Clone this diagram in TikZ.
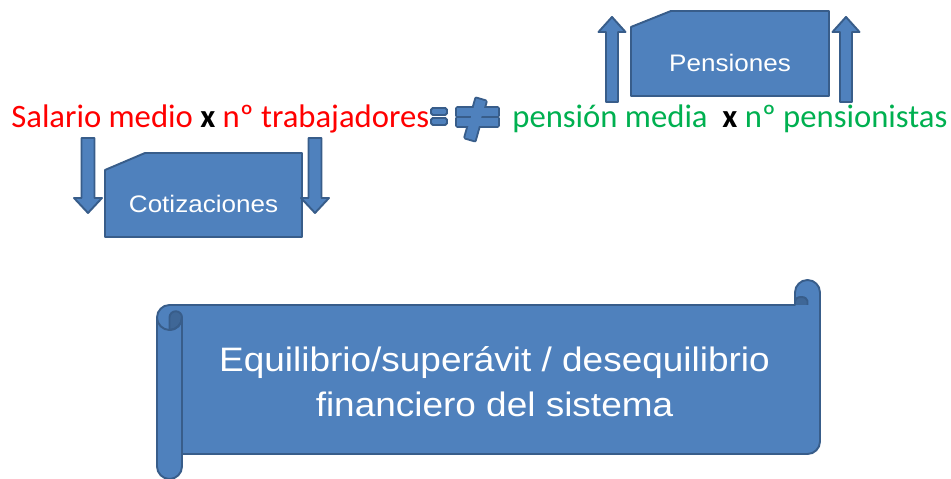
\documentclass[tikz,border=0pt]{standalone}
\usepackage{fontspec}
\setmainfont{Carlito}
\newfontfamily\arialfont[FakeStretch=1.09]{Liberation Sans}
\definecolor{pptblue}{HTML}{4F81BD}
\definecolor{pptline}{HTML}{385D8A}
\definecolor{pptdark}{HTML}{3F6797}
\definecolor{pptgreen}{HTML}{00B050}

\begin{document}
\begin{tikzpicture}[
    x=0.02cm, y=0.02cm,
    blk/.style={fill=pptblue, draw=pptline, line width=1.1pt, line join=round},
    curl/.style={fill=pptdark, draw=pptline, line width=1.1pt, line join=round},
    signline/.style={draw=pptline, line width=2.2pt, line join=round},
    term/.style={anchor=base west, inner sep=0pt, font=\fontsize{18.6}{22}\selectfont},
    boxlabel/.style={anchor=base, inner sep=0pt, text=white, font=\arialfont\fontsize{13.6}{16}\selectfont},
    scrolllabel/.style={anchor=base, inner sep=0pt, align=center, text=white, font=\arialfont\fontsize{19.3}{25.8}\selectfont}
]
\useasboundingbox (0,0) rectangle (951,479);

% Fórmula
\node[term, text=red] (salario) at (11,351) {Salario medio \textcolor{black}{\textbf{x}} nº trabajadores};
\node[term, text=pptgreen] (pension) at (512,351) {pensión media\ \ \textcolor{black}{\textbf{x}} nº pensionistas};

% Igual / distinto
\draw[blk, rounded corners=1pt] (431,364) rectangle (447,371);
\draw[blk, rounded corners=1pt] (431,354) rectangle (447,361);
\path[signline] (457,363) rectangle (498,371) (457,353) rectangle (498,361)
    (465.2,341.4) -- (474.8,338.6) -- (485.8,377.6) -- (476.2,380.4) -- cycle;
\fill[pptblue] (457,363) rectangle (498,371);
\fill[pptblue] (457,353) rectangle (498,361);
\fill[pptblue] (465.2,341.4) -- (474.8,338.6) -- (485.8,377.6) -- (476.2,380.4) -- cycle;

% Cotizaciones
\draw[blk] (105,242) -- (302,242) -- (302,326) -- (145,326) -- (105,309) -- cycle;
\node[boxlabel] (cotiz) at (203.5,266) {Cotizaciones};
\draw[blk] (81.5,341) -- (94.5,341) -- (94.5,281) -- (102,281) -- (88,266) -- (74,281) -- (81.5,281) -- cycle;
\draw[blk] (308.5,341) -- (321.5,341) -- (321.5,281) -- (329,281) -- (315,266) -- (301,281) -- (308.5,281) -- cycle;

% Pensiones
\draw[blk] (631,383) -- (829,383) -- (829,468) -- (671,468) -- (631,452) -- cycle;
\node[boxlabel] (pens) at (730,407.5) {Pensiones};
\draw[blk] (606,377) -- (618,377) -- (618,447) -- (625.5,447) -- (612,462) -- (598.5,447) -- (606,447) -- cycle;
\draw[blk] (840,377) -- (852,377) -- (852,447) -- (859.5,447) -- (846,462) -- (832.5,447) -- (840,447) -- cycle;

% Pergamino
\draw[blk] (157,161.5) -- (157,12.5) arc[start angle=180, end angle=360, radius=12.5]
    -- (182,25) -- (807.5,25) arc[start angle=270, end angle=360, radius=12.5]
    -- (820,186.5) arc[start angle=0, end angle=180, radius=12.5]
    -- (795,174) -- (169.5,174) arc[start angle=90, end angle=180, radius=12.5] -- cycle;
\draw[curl] (169.5,161.5) arc[start angle=180, end angle=0, radius=6.25]
    arc[start angle=0, end angle=-90, radius=12.5] -- cycle;
\draw[pptline, line width=1.1pt] (157,161.5) arc[start angle=180, end angle=360, radius=12.5] -- (182,25);
\draw[curl] (795,174) -- (795,178) arc[start angle=180, end angle=0, x radius=6.25, y radius=4] -- (807.5,174);
\node[scrolllabel] (equil) at (494.5,62) {Equilibrio/superávit / desequilibrio\\financiero del sistema};
\end{tikzpicture}
\end{document}
